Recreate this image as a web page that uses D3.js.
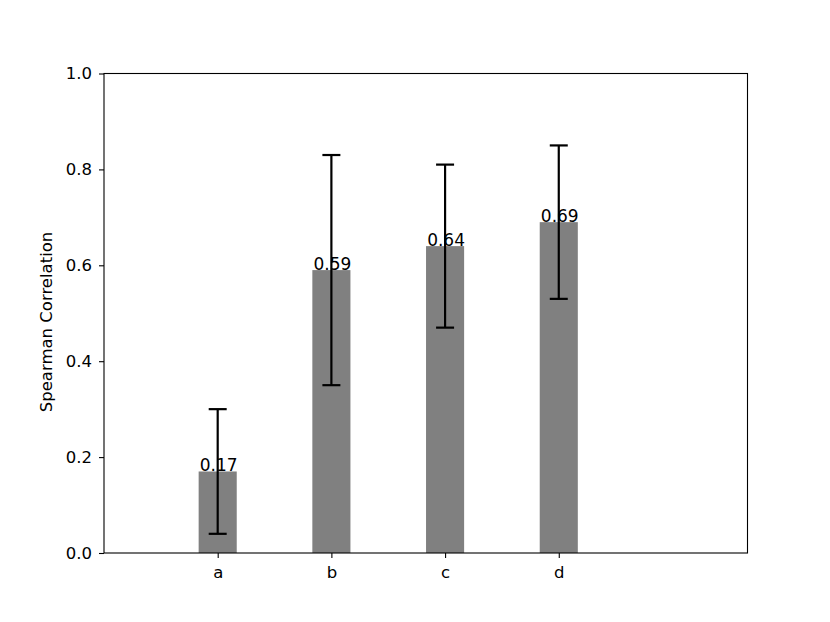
<!DOCTYPE html>
<html>
<head>
<meta charset="utf-8">
<script src="https://cdn.jsdelivr.net/npm/d3@7"></script>
<style>
  html, body { margin: 0; padding: 0; background: #fff; }
  text { font-family: "DejaVu Sans", sans-serif; }
</style>
</head>
<body>
<svg id="chart" width="830" height="622"></svg>
<script>
const categories = ["a", "b", "c", "d"];
const values = [0.17, 0.59, 0.64, 0.69];
const errLow = [0.04, 0.35, 0.47, 0.53];
const errHigh = [0.30, 0.83, 0.81, 0.85];
const yTicks = [0.0, 0.2, 0.4, 0.6, 0.8, 1.0];
const valueLabels = ["0.17", "0.59", "0.64", "0.69"];

(function () {
const svg = d3.select("#chart");
const mLeft = 104, mRight = 747.5, mTop = 73.5, mBottom = 553;

const x = d3.scaleLinear().domain([-1, 4.66]).range([mLeft, mRight]);
const y = d3.scaleLinear().domain([0, 1]).range([mBottom, mTop]);
const barW = x(0.335) - x(0);

const idx = categories.map((d, i) => i);

// bars
svg.append("g").selectAll("rect").data(idx).join("rect")
  .attr("x", i => x(i) - barW / 2)
  .attr("y", i => y(values[i]))
  .attr("width", barW)
  .attr("height", i => y(0) - y(values[i]))
  .attr("fill", "#808080");

// error bars
const eg = svg.append("g").attr("stroke", "#000").attr("stroke-width", 2.2);
eg.selectAll("line.v").data(idx).join("line").attr("class", "v")
  .attr("x1", i => x(i)).attr("x2", i => x(i))
  .attr("y1", i => y(errLow[i])).attr("y2", i => y(errHigh[i]));
eg.selectAll("line.t").data(idx).join("line").attr("class", "t")
  .attr("x1", i => x(i) - 9).attr("x2", i => x(i) + 9)
  .attr("y1", i => y(errHigh[i])).attr("y2", i => y(errHigh[i]));
eg.selectAll("line.b").data(idx).join("line").attr("class", "b")
  .attr("x1", i => x(i) - 9).attr("x2", i => x(i) + 9)
  .attr("y1", i => y(errLow[i])).attr("y2", i => y(errLow[i]));

// value labels
svg.append("g").selectAll("text").data(idx).join("text")
  .attr("x", i => x(i) + 1)
  .attr("y", i => y(values[i]))
  .attr("text-anchor", "middle")
  .attr("font-size", 17)
  .attr("fill", "#000")
  .text(i => valueLabels[i]);

// axes
const yAxis = d3.axisLeft(y).tickValues(yTicks).tickFormat(d3.format(".1f")).tickSize(5).tickPadding(7);
const yg = svg.append("g").attr("transform", `translate(${mLeft},0)`).call(yAxis);
const xAxis = d3.axisBottom(x).tickValues(idx).tickFormat(i => categories[i]).tickSize(5).tickPadding(8);
const xg = svg.append("g").attr("transform", `translate(0,${mBottom})`).call(xAxis);
[yg, xg].forEach(g => {
  g.attr("font-size", null).attr("font-family", null);
  g.select(".domain").remove();
  g.selectAll(".tick line").attr("stroke", "#000").attr("stroke-width", 1.1);
  g.selectAll(".tick text").attr("fill", "#000")
    .style("font-size", "16.5px")
    .style("font-family", "DejaVu Sans, sans-serif");
});

// frame
svg.append("rect")
  .attr("x", mLeft).attr("y", mTop)
  .attr("width", mRight - mLeft).attr("height", mBottom - mTop)
  .attr("fill", "none").attr("stroke", "#000").attr("stroke-width", 1.1);

// y label
svg.append("text")
  .attr("transform", `translate(52,322) rotate(-90)`)
  .attr("text-anchor", "middle")
  .attr("font-size", 16.5)
  .attr("fill", "#000")
  .text("Spearman Correlation");
})();
</script>
</body>
</html>
